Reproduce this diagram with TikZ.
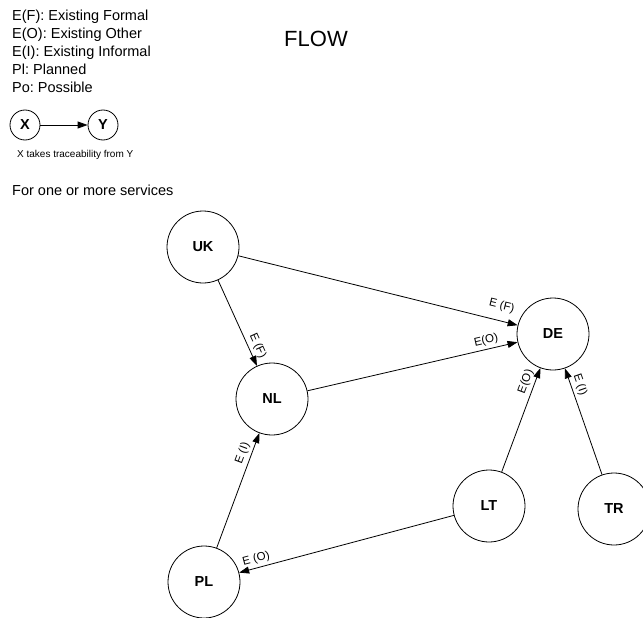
\documentclass[tikz,border=0pt]{standalone}
\usepackage{fontspec}
\setmainfont{Liberation Sans}
\usetikzlibrary{arrows.meta}
\frenchspacing
\begin{document}
\begin{tikzpicture}[x=1pt,y=-1pt,
  country/.style={circle,draw,line width=0.8pt,minimum size=72pt,inner sep=0pt,font=\fontsize{14.5}{17}\selectfont\bfseries},
  flow/.style={line width=0.8pt,-{Triangle[length=10pt,width=7pt]}},
  lbl/.style={sloped,above,inner sep=3pt,font=\fontsize{11.5}{13}\selectfont},
  legend/.style={anchor=base west,inner sep=0pt,font=\fontsize{14.5}{17}\selectfont}]
\useasboundingbox (0,0) rectangle (643,618);
\node[legend] (ef) at (12,20.5) {E(F): Existing Formal};
\node[legend] (eo) at (12,38.5) {E(O): Existing Other};
\node[legend] (ei) at (12,56.5) {E(I): Existing Informal};
\node[legend] (pl-key) at (12,74.5) {Pl: Planned};
\node[legend] (po-key) at (12,92.5) {Po: Possible};
\node[anchor=base,font=\fontsize{22}{26}\selectfont] (title) at (316,46.7) {FLOW};
\node[country,minimum size=30pt] (legx) at (25,125) {X};
\node[country,minimum size=30pt] (legy) at (103,125) {Y};
\draw[flow] (legx) -- (legy);
\node[anchor=base west,inner sep=0pt,font=\fontsize{10}{12}\selectfont] (note) at (17,157) {X takes traceability from Y};
\node[legend] (services) at (12,195) {For one or more services};
\node[country] (uk) at (203,247) {UK};
\node[country] (nl) at (272,399) {NL};
\node[country] (de) at (553,334) {DE};
\node[country] (lt) at (489,506) {LT};
\node[country] (tr) at (614,509) {TR};
\node[country] (pl) at (204,582) {PL};
\draw[flow] (uk) -- node[lbl,above=6pt,pos=0.93] {E (F)} (de);
\draw[flow] (uk) -- node[lbl,pos=0.81] {E (F)} (nl);
\draw[flow] (nl) -- node[lbl,pos=0.86] {E(O)} (de);
\draw[flow] (lt) -- node[lbl,pos=0.84] {E(O)} (de);
\draw[flow] (tr) -- node[lbl,pos=0.82] {E (I)} (de);
\draw[flow] (pl) -- node[lbl,pos=0.80] {E (I)} (nl);
\draw[flow] (lt) -- node[lbl,pos=0.91] {E (O)} (pl);
\end{tikzpicture}
\end{document}
